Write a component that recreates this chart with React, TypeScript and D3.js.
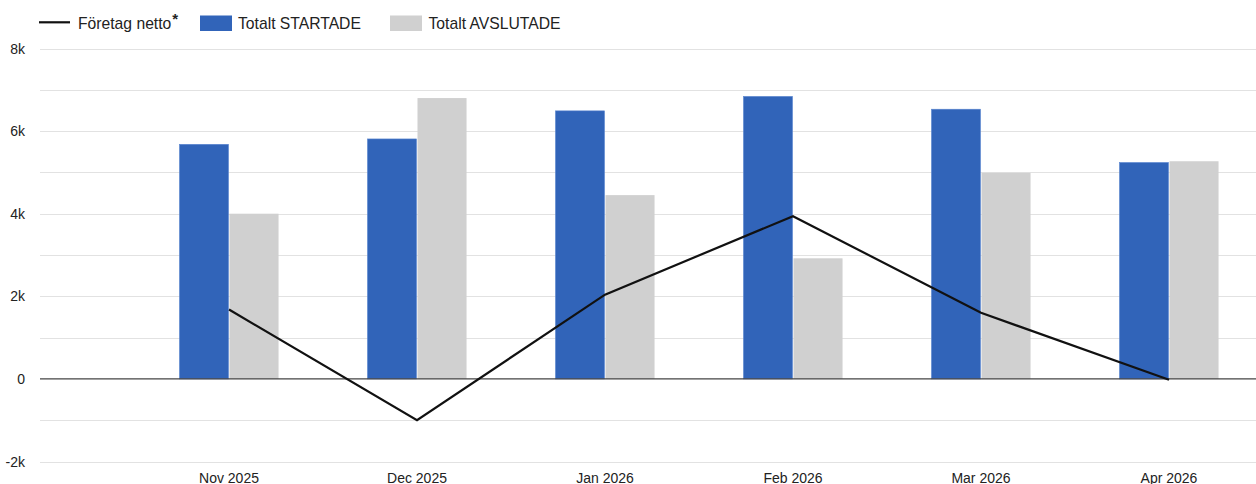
import React from "react";
import * as d3 from "d3";

// data
const months = ["Nov 2025", "Dec 2025", "Jan 2026", "Feb 2026", "Mar 2026", "Apr 2026"];
const startade = [5680, 5810, 6490, 6840, 6530, 5240];
const avslutade = [4000, 6800, 4450, 2920, 4990, 5270];
const netto = [1680, -1000, 2040, 3940, 1600, -20];
const yTicks = [-2000, -1000, 0, 1000, 2000, 3000, 4000, 5000, 6000, 7000, 8000];
const yLabels = [-2000, 0, 2000, 4000, 6000, 8000];

const WIDTH = 1256;
const HEIGHT = 484;
const FONT = "'Liberation Sans', Arial, sans-serif";
const BLUE = "#3164b9";
const GREY = "#d0d0d0";

const plotLeft = 40;
const step = 188;

function App() {
  const x = d3.scaleBand<string>()
    .domain(months)
    .range([plotLeft + step / 2 + 1, plotLeft + step / 2 + 1 + step * months.length])
    .paddingInner(0.473)
    .paddingOuter(0.2365);

  const inner = d3.scaleBand<string>()
    .domain(["start", "slut"])
    .range([0, x.bandwidth()]);

  const y = d3.scaleLinear().domain([-2000, 8000]).range([461.5, 48.5]);

  const center = (m: string) => (x(m) as number) + x.bandwidth() / 2;

  const line = d3.line<number>()
    .x((_, i) => center(months[i]))
    .y(d => y(d));

  const yLabel = (v: number) => (v === 0 ? "0" : d3.format("~s")(v).replace("−", "-"));

  return (
    <svg width={WIDTH} height={HEIGHT} style={{ position: "absolute", left: 0, top: 0 }} fontFamily={FONT}>
      <rect width={WIDTH} height={HEIGHT} fill="#fff" />

      {/* grid */}
      <g>
        {yTicks.filter(t => t !== 0).map(t => (
          <line key={t} x1={plotLeft} x2={WIDTH} y1={Math.round(y(t)) + 0.5} y2={Math.round(y(t)) + 0.5}
            stroke="#e2e2e2" strokeWidth={1.2} />
        ))}
      </g>

      {/* y labels */}
      <g fontSize={14} fill="#222" textAnchor="end">
        {yLabels.map(t => (
          <text key={t} x={25} y={y(t)} dy="0.36em">{yLabel(t)}</text>
        ))}
      </g>

      {/* bars */}
      <g>
        {months.map((m, i) => (
          <g key={m} transform={`translate(${x(m)},0)`}>
            <rect x={inner("start")} y={y(startade[i])} width={inner.bandwidth() - 0.5}
              height={y(0) - y(startade[i])} fill={BLUE} stroke="#5b86d0" strokeWidth={0.6} />
            <rect x={(inner("slut") as number) + 0.5} y={y(avslutade[i])} width={inner.bandwidth() - 0.5}
              height={y(0) - y(avslutade[i])} fill={GREY} />
          </g>
        ))}
      </g>

      {/* zero line */}
      <line x1={plotLeft} x2={WIDTH} y1={y(0)} y2={y(0)} stroke="#444" strokeWidth={1.2} />

      {/* net line */}
      <path d={line(netto) ?? ""} fill="none" stroke="#111" strokeWidth={2.2} strokeLinejoin="miter" />

      {/* x labels */}
      <g fontSize={14} fill="#222" textAnchor="middle">
        {months.map(m => (
          <text key={m} x={center(m)} y={482.5}>{m}</text>
        ))}
      </g>

      {/* legend */}
      <g fontSize={15.7} fill="#222">
        <line x1={39} x2={70} y1={22.3} y2={22.3} stroke="#111" strokeWidth={2.2} />
        <text x={78} y={28.5}>
          Företag netto<tspan fontSize={15} fontWeight="bold" dy={-5} dx={1}>*</tspan>
        </text>
        <rect x={200} y={15.5} width={32} height={15.5} fill={BLUE} />
        <text x={238} y={28.5}>Totalt STARTADE</text>
        <rect x={390} y={15.5} width={32} height={15.5} fill={GREY} />
        <text x={428.5} y={28.5}>Totalt AVSLUTADE</text>
      </g>
    </svg>
  );
}

export default App;
